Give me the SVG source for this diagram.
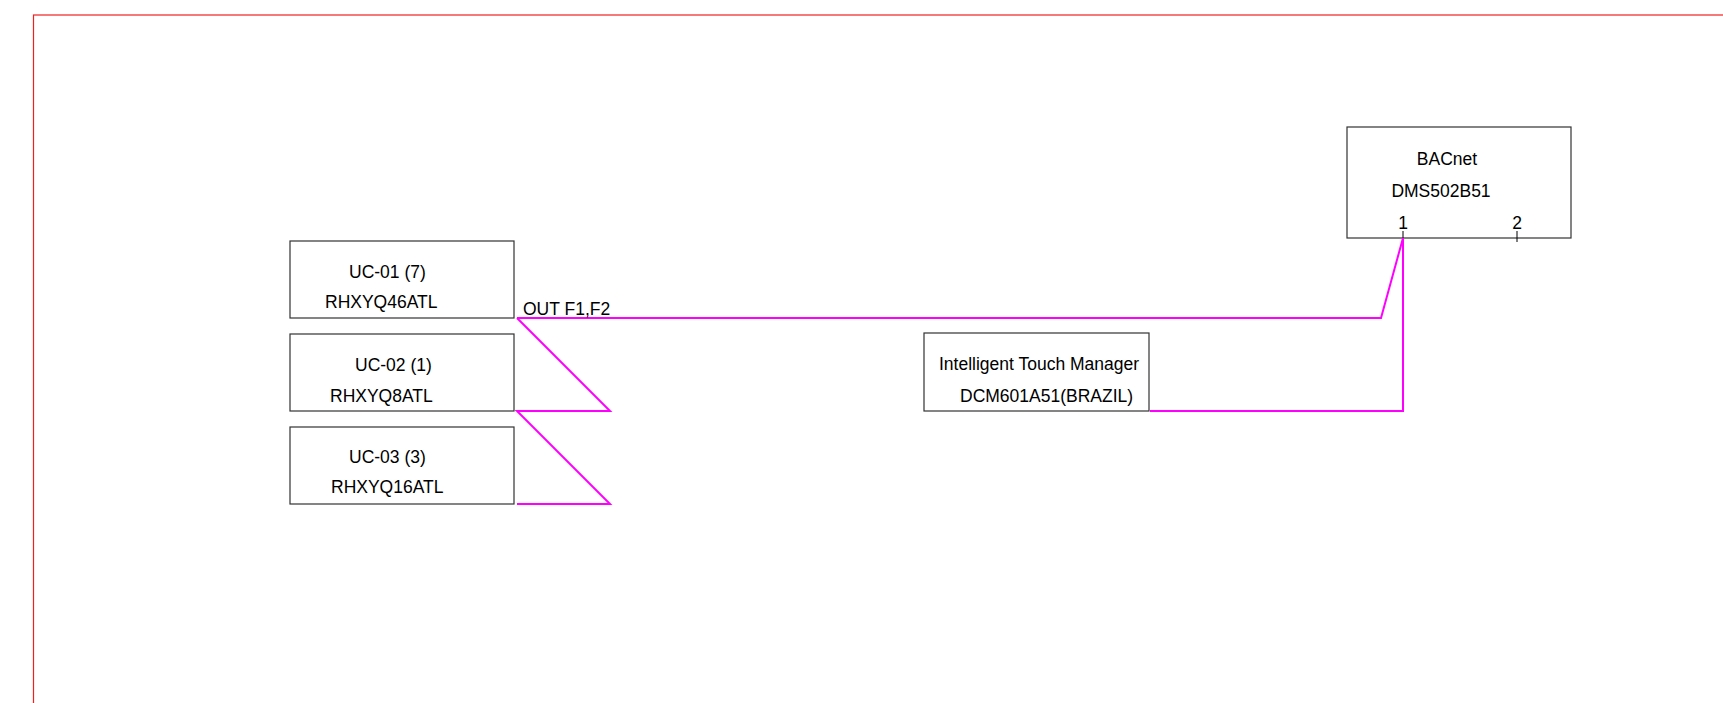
<svg xmlns="http://www.w3.org/2000/svg" width="1723" height="703" viewBox="0 0 1723 703">
<style>
.box{fill:#fff;stroke:#333;stroke-width:1.2}
.t{font-family:"Liberation Sans",Arial,sans-serif;font-size:17.5px;fill:#000}
.w{fill:none;stroke:#ff00ff;stroke-width:2}
</style>
<rect x="0" y="0" width="1723" height="703" fill="#fff"/>
<rect x="33.5" y="15" width="1800" height="800" fill="none" stroke="#f02020" stroke-width="1.2"/>
<g id="uc01">
<rect class="box" x="290" y="241" width="224" height="77"/>
<text class="t" x="349" y="278">UC-01 (7)</text>
<text class="t" x="325" y="308">RHXYQ46ATL</text>
</g>
<g id="uc02">
<rect class="box" x="290" y="334" width="224" height="77"/>
<text class="t" x="355" y="371">UC-02 (1)</text>
<text class="t" x="330" y="402">RHXYQ8ATL</text>
</g>
<g id="uc03">
<rect class="box" x="290" y="427" width="224" height="77"/>
<text class="t" x="349" y="463">UC-03 (3)</text>
<text class="t" x="331" y="493">RHXYQ16ATL</text>
</g>
<g id="bacnet">
<rect class="box" x="1347" y="127" width="224" height="111"/>
<text class="t" x="1447" y="165" text-anchor="middle">BACnet</text>
<text class="t" x="1441" y="197" text-anchor="middle">DMS502B51</text>
<text class="t" x="1403" y="229" text-anchor="middle">1</text>
<text class="t" x="1517" y="229" text-anchor="middle">2</text>
<line x1="1403" y1="231" x2="1403" y2="238" stroke="#000" stroke-width="1"/>
<line x1="1517" y1="231" x2="1517" y2="242" stroke="#000" stroke-width="1"/>
</g>
<g id="itm">
<rect class="box" x="924" y="333" width="225" height="78"/>
<text class="t" x="939" y="370">Intelligent Touch Manager</text>
<text class="t" x="960" y="402">DCM601A51(BRAZIL)</text>
</g>
<g id="connectors">
<polyline class="w" points="517,318 610,411 517,411 610,504 517,504"/>
<polyline class="w" points="517,318 1381,318 1403,238"/>
<polyline class="w" points="1150,411 1403,411 1403,238"/>
<text class="t" x="523" y="315">OUT F1,F2</text>
</g>
</svg>
